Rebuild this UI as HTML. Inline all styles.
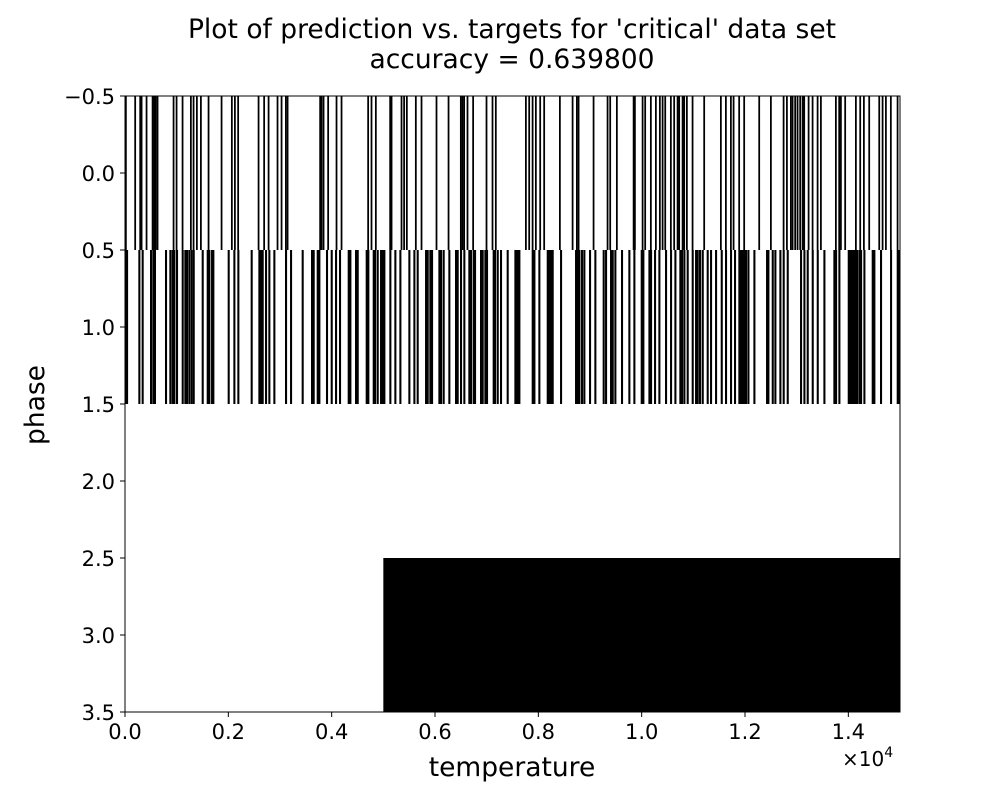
<!DOCTYPE html>
<html><head><meta charset="utf-8"><style>
body{margin:0;background:#fff;width:1000px;height:800px;overflow:hidden}
svg text{font-family:"DejaVu Sans","Liberation Sans",sans-serif;fill:#000}
</style></head><body>
<svg id="chart" width="1000" height="800" viewBox="0 0 1000 800" xmlns="http://www.w3.org/2000/svg">
<text x="512" y="38" font-size="26.5" text-anchor="middle">Plot of prediction vs. targets for 'critical' data set</text>
<text x="512" y="68" font-size="26.5" text-anchor="middle">accuracy = 0.639800</text>
<g id="marks"></g>
<rect x="125" y="96" width="775" height="616" fill="none" stroke="#000" stroke-width="1"/>
<g id="xticks"></g>
<g id="yticks"></g>
<text x="512" y="776" font-size="26.5" text-anchor="middle">temperature</text>
<text transform="translate(44,405) rotate(-90)" font-size="26.5" text-anchor="middle">phase</text>
<text x="842" y="766" font-size="20">×10<tspan font-size="14" dy="-9">4</tspan></text>
</svg>
<script>
const nCols = 15000;
const nRows = 4;
const row0Stripes = [0,180,277,304,400,517,548,580,613,923,981,1097,1258,1310,1374,1452,1600,1852,2051,2110,2173,2568,2676,2762,2935,3013,3097,3130,3760,3787,3826,3915,4077,4174,4689,4754,4838,5115,5142,5335,5385,5438,5612,5722,6012,6245,6483,6515,6547,6612,6721,6980,7096,7160,7742,7806,7872,7935,8019,8096,8400,8646,8729,8762,9052,9323,9374,9503,9827,9852,10001,10051,10161,10258,10335,10388,10439,10548,10612,10678,10709,10775,10806,10858,10968,11193,11516,11613,11710,11762,11870,11967,12258,12484,12730,12794,12871,12904,12954,13000,13051,13098,13129,13214,13291,13388,13452,13742,13806,13839,13922,14129,14213,14284,14387,14581,14646,14710,14806,14936];
const row1Stripes = [0,20,258,322,484,529,560,774,858,903,936,987,1097,1148,1181,1226,1271,1310,1484,1581,1613,1665,1690,1987,2097,2174,2432,2581,2613,2645,2710,2774,2871,3097,3194,3419,3600,3632,3710,3742,3890,3981,4065,4142,4310,4342,4452,4484,4658,4690,4794,4820,4871,4936,4968,5000,5116,5213,5310,5484,5581,5645,5807,5839,5890,5923,6065,6097,6148,6258,6387,6419,6484,6548,6645,6677,6729,6755,6871,6903,6955,6987,7116,7142,7194,7258,7387,7548,7581,7536,7613,7871,7904,8000,8162,8194,8226,8258,8420,8710,8742,8775,8826,8871,8981,9084,9245,9291,9387,9420,9471,9600,9742,9839,9981,10013,10130,10162,10239,10323,10452,10549,10633,10729,10762,10807,10871,10968,11033,11065,11110,11162,11258,11323,11420,11530,11613,11710,11787,11871,11904,11936,11968,12000,12046,12162,12407,12433,12517,12568,12665,12729,12807,13065,13130,13194,13291,13388,13517,13710,13743,13807,13988,14020,14052,14085,14117,14149,14194,14227,14291,14452,14484,14613,14807,14936,14968];
const row2Blocks = [];
const row3Blocks = [[5000,15000]];
const xTickValues = [0,0.2,0.4,0.6,0.8,1.0,1.2,1.4];
const xTickLabels = ["0.0","0.2","0.4","0.6","0.8","1.0","1.2","1.4"];
const yTickValues = [-0.5,0,0.5,1,1.5,2,2.5,3,3.5];
const yTickLabels = ["\u22120.5","0.0","0.5","1.0","1.5","2.0","2.5","3.0","3.5"];

const X0=125,X1=900,Y0=96,Y1=712;
const xScale = t => X0 + t/nCols*(X1-X0);
const yScale = r => Y0 + (r+0.5)/nRows*(Y1-Y0);
const NS="http://www.w3.org/2000/svg";
const marks=document.getElementById('marks');
function cell(c0,c1,row,name){
  const r=document.createElementNS(NS,'rect');
  r.setAttribute('x',xScale(c0));
  r.setAttribute('width',Math.max(0.8,xScale(c1)-xScale(c0)));
  r.setAttribute('y',yScale(row-0.5));
  r.setAttribute('height',yScale(row+0.5)-yScale(row-0.5));
  r.setAttribute('fill','#000');
  
  
  marks.appendChild(r);
}
row0Stripes.forEach(v=>cell(v,v+34,0,'row0-stripe'));
row1Stripes.forEach(v=>cell(v,v+40,1,'row1-stripe'));
row2Blocks.forEach(b=>cell(b[0],b[1],2,'row2-block'));
row3Blocks.forEach(b=>cell(b[0],b[1],3,'row3-block'));

const xt=document.getElementById('xticks');
xTickValues.forEach((v,i)=>{
  const x=xScale(v*1e4);
  const l=document.createElementNS(NS,'line');
  l.setAttribute('x1',x);l.setAttribute('x2',x);l.setAttribute('y1',Y1);l.setAttribute('y2',Y1+5);
  l.setAttribute('stroke','#000');
  
  
  xt.appendChild(l);
  const t=document.createElementNS(NS,'text');
  t.setAttribute('x',x);t.setAttribute('y',Y1+27);t.setAttribute('font-size','21');t.setAttribute('text-anchor','middle');
  t.textContent=xTickLabels[i];
  
  
  xt.appendChild(t);
});
const yt=document.getElementById('yticks');
yTickValues.forEach((v,i)=>{
  const y=yScale(v);
  const l=document.createElementNS(NS,'line');
  l.setAttribute('x1',X0-5);l.setAttribute('x2',X0);l.setAttribute('y1',y);l.setAttribute('y2',y);
  l.setAttribute('stroke','#000');
  
  
  yt.appendChild(l);
  const t=document.createElementNS(NS,'text');
  t.setAttribute('x',X0-10);t.setAttribute('y',y+8);t.setAttribute('font-size','21');t.setAttribute('text-anchor','end');
  t.textContent=yTickLabels[i];
  
  
  yt.appendChild(t);
});
</script>
</body></html>
